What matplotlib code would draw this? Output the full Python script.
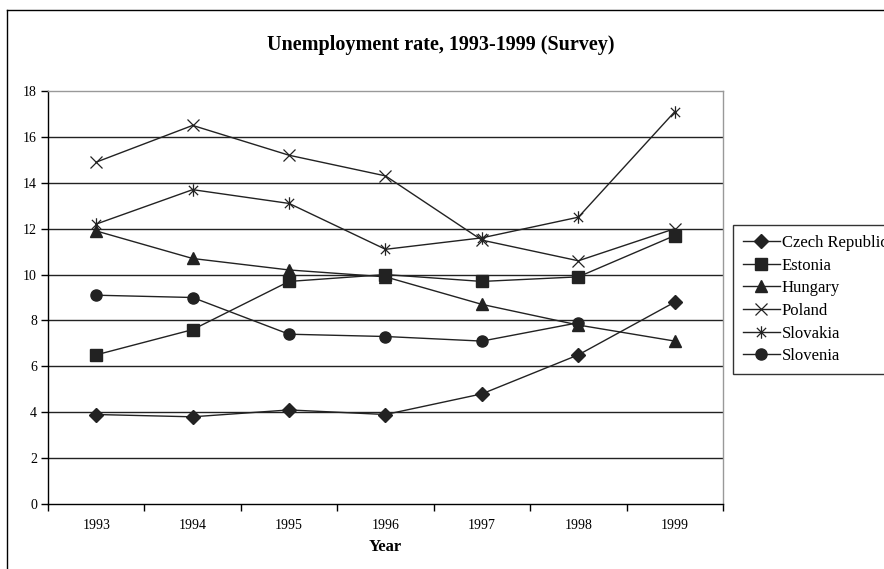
import matplotlib
matplotlib.use("Agg")
import matplotlib.pyplot as plt
import numpy as np
from matplotlib.path import Path
from matplotlib.lines import Line2D

plt.rcParams['font.family'] = ['Liberation Serif', 'DejaVu Serif']

years = ['1993', '1994', '1995', '1996', '1997', '1998', '1999']
czech = [3.9, 3.8, 4.1, 3.9, 4.8, 6.5, 8.8]
estonia = [6.5, 7.6, 9.7, 10.0, 9.7, 9.9, 11.7]
hungary = [11.9, 10.7, 10.2, 9.9, 8.7, 7.8, 7.1]
poland = [14.9, 16.5, 15.2, 14.3, 11.5, 10.6, 12.0]
slovakia = [12.2, 13.7, 13.1, 11.1, 11.6, 12.5, 17.1]
slovenia = [9.1, 9.0, 7.4, 7.3, 7.1, 7.9, np.nan]

# x with a vertical bar through it
star_path = Path(
    [(-1, -1), (1, 1), (-1, 1), (1, -1), (0, -1.35), (0, 1.35)],
    [Path.MOVETO, Path.LINETO, Path.MOVETO, Path.LINETO, Path.MOVETO, Path.LINETO],
)

series = [
    ('Czech Republic', czech, dict(marker='D', markersize=7)),
    ('Estonia', estonia, dict(marker='s', markersize=8)),
    ('Hungary', hungary, dict(marker='^', markersize=9)),
    ('Poland', poland, dict(marker='x', markersize=9, markeredgewidth=0.9)),
    ('Slovakia', slovakia, dict(marker=star_path, markersize=9, markeredgewidth=0.9)),
    ('Slovenia', slovenia, dict(marker='o', markersize=8)),
]

fig = plt.figure(figsize=(8.84, 5.69), dpi=100)
ax = fig.add_axes([48 / 884, 1 - 504 / 569, 675 / 884, 413 / 569])

x = np.arange(len(years))
ink = '#222222'
for name, vals, style in series:
    ax.plot(x, vals, color=ink, lw=1.0, markerfacecolor=ink,
            markeredgecolor=ink, label=name, **style)

ax.set_xlim(-0.5, len(years) - 0.5)
ax.set_ylim(0, 18)
ax.set_yticks(np.arange(0, 19, 2))
for v in np.arange(2, 18, 2):
    ax.axhline(v, color='#222222', lw=1.0, zorder=0)

ax.set_xticks(x)
ax.set_xticklabels(years, fontsize=10)
ax.set_xticks(np.arange(-0.5, len(years)), minor=True)
ax.tick_params(axis='x', which='major', length=0, pad=11)
ax.tick_params(axis='x', which='minor', length=5, width=1, direction='out', color='black')
ax.tick_params(axis='y', length=5, width=1, direction='out', labelsize=10, pad=3)

for side in ('left', 'bottom'):
    ax.spines[side].set_color('black')
    ax.spines[side].set_linewidth(1.0)
for side in ('top', 'right'):
    ax.spines[side].set_color('#999999')
    ax.spines[side].set_linewidth(1.0)

ax.set_xlabel('Year', fontsize=12, fontweight='bold', labelpad=5)

fig.text(441 / 884, 1 - 45 / 569, 'Unemployment rate, 1993-1999 (Survey)',
         ha='center', va='center', fontsize=14.5, fontweight='bold')

leg = fig.legend(loc='upper left', bbox_to_anchor=(733 / 884, 1 - 225 / 569),
                 borderaxespad=0, fontsize=12, frameon=True, fancybox=False,
                 edgecolor='black', handlelength=2.2, handletextpad=0.12,
                 labelspacing=0.4, borderpad=0.6)
leg.get_frame().set_linewidth(1.0)

# outer chart frame
fig.add_artist(Line2D([7 / 884, 1], [1 - 10 / 569, 1 - 10 / 569],
                      transform=fig.transFigure, color='black', lw=1))
fig.add_artist(Line2D([7 / 884, 7 / 884], [0, 1 - 10 / 569],
                      transform=fig.transFigure, color='black', lw=1))

fig.savefig('out.png', dpi=100)
